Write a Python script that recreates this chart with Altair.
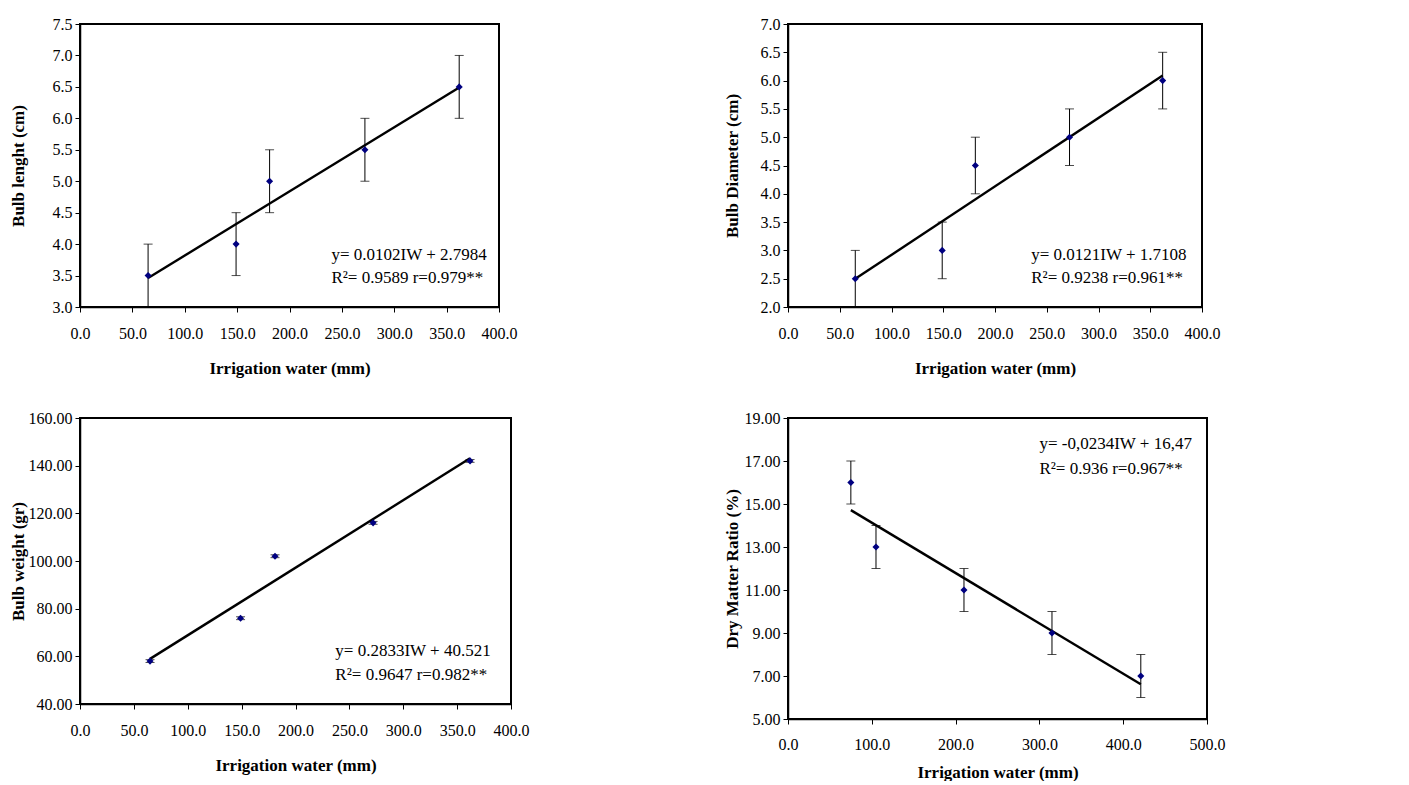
import altair as alt
import pandas as pd

FONT = "Liberation Serif"

# ---- data ----
iw_top = [65, 149, 181, 272, 362]
bulb_length = [3.5, 4.0, 5.0, 5.5, 6.5]
bulb_length_err = [0.5, 0.5, 0.5, 0.5, 0.5]
bulb_diam = [2.5, 3.0, 4.5, 5.0, 6.0]
bulb_diam_err = [0.5, 0.5, 0.5, 0.5, 0.5]

iw_w = [65, 149, 181, 272, 362]
bulb_weight = [58, 76, 102, 116, 142]
bulb_weight_err = [0.6, 0.6, 0.6, 0.6, 0.6]

iw_dm = [75, 105, 210, 315, 421]
dry_matter = [16, 13, 11, 9, 7]
dry_matter_err = [1, 1, 1, 1, 1]

# regression coefficients (slope, intercept) as printed
coef_length = (0.0102, 2.7984)
coef_diam = (0.0121, 1.7108)
coef_weight = (0.2833, 40.521)
coef_dm = (-0.0234, 16.47)

eq_length = ["y= 0.0102IW + 2.7984", "R²= 0.9589 r=0.979**"]
eq_diam = ["y= 0.0121IW + 1.7108", "R²= 0.9238 r=0.961**"]
eq_weight = ["y= 0.2833IW + 40.521", "R²= 0.9647 r=0.982**"]
eq_dm = ["y= -0,0234IW + 16,47", "R²= 0.936 r=0.967**"]

xticks_400 = [0, 50, 100, 150, 200, 250, 300, 350, 400]
xticks_500 = [0, 100, 200, 300, 400, 500]
yticks_length = [3.0, 3.5, 4.0, 4.5, 5.0, 5.5, 6.0, 6.5, 7.0, 7.5]
yticks_diam = [2.0, 2.5, 3.0, 3.5, 4.0, 4.5, 5.0, 5.5, 6.0, 6.5, 7.0]
yticks_weight = [40, 60, 80, 100, 120, 140, 160]
yticks_dm = [5, 7, 9, 11, 13, 15, 17, 19]


def panel(x, y, err, coef, xticks, yticks, yfmt, ytitle, eq, ann_x, ann_y,
          w, h, ytitle_pad, xlabel_pad=13, xtitle_pad=19):
    df = pd.DataFrame({
        "x": x, "y": y,
        "lo": [a - e for a, e in zip(y, err)],
        "hi": [a + e for a, e in zip(y, err)],
    })
    xs = alt.Scale(domain=[xticks[0], xticks[-1]], nice=False, zero=False)
    ys = alt.Scale(domain=[yticks[0], yticks[-1]], nice=False, zero=False)
    xaxis = alt.Axis(values=xticks, format=".1f", labelFlush=False,
                     labelOverlap=False, tickSize=5, labelPadding=xlabel_pad,
                     titlePadding=xtitle_pad)
    yaxis = alt.Axis(values=yticks, format=yfmt, labelOverlap=False,
                     tickSize=5, labelPadding=3, titlePadding=ytitle_pad)
    xt = "Irrigation water (mm)"

    def X(f):
        return alt.X(f"{f}:Q", scale=xs, axis=xaxis, title=xt)

    def Y(f):
        return alt.Y(f"{f}:Q", scale=ys, axis=yaxis, title=ytitle)

    base = alt.Chart(df)
    rule = base.mark_rule(color="black", strokeWidth=1).encode(
        x=X("x"), y=Y("lo"), y2="hi:Q")
    cap_lo = base.mark_tick(color="black", thickness=1, size=9,
                            orient="horizontal").encode(x=X("x"), y=Y("lo"))
    cap_hi = base.mark_tick(color="black", thickness=1, size=9,
                            orient="horizontal").encode(x=X("x"), y=Y("hi"))
    xmin, xmax = min(x), max(x)
    line_df = pd.DataFrame({"x": [xmin, xmax],
                            "y": [coef[0] * xmin + coef[1],
                                  coef[0] * xmax + coef[1]]})
    line = alt.Chart(line_df).mark_line(color="black", strokeWidth=2.4).encode(
        x=X("x"), y=Y("y"))
    pts = base.mark_point(shape="diamond", filled=True, color="#000080",
                          size=50, opacity=1).encode(x=X("x"), y=Y("y"))
    ann_df = pd.DataFrame({"x": [ann_x, ann_x], "y": ann_y, "t": eq})
    ann = alt.Chart(ann_df).mark_text(align="left", baseline="middle",
                                      font=FONT, fontSize=17,
                                      color="black").encode(
        x=X("x"), y=Y("y"), text="t:N")
    return alt.layer(rule, cap_lo, cap_hi, line, pts, ann).properties(
        width=w, height=h)


p1 = panel(iw_top, bulb_length, bulb_length_err, coef_length, xticks_400,
           yticks_length, ".1f", "Bulb lenght (cm)", eq_length,
           240, [3.83, 3.46], 419, 283, 25)
p2 = panel(iw_top, bulb_diam, bulb_diam_err, coef_diam, xticks_400,
           yticks_diam, ".1f", "Bulb Diameter (cm)", eq_diam,
           235, [2.92, 2.51], 414, 283, 19)
p3 = panel(iw_w, bulb_weight, bulb_weight_err, coef_weight, xticks_400,
           yticks_weight, ".2f", "Bulb weight (gr)", eq_weight,
           237, [62.1, 52.3], 431, 286, 1)
p4 = panel(iw_dm, dry_matter, dry_matter_err, coef_dm, xticks_500,
           yticks_dm, ".2f", "Dry Matter Ratio (%)", eq_dm,
           300, [17.8, 16.64], 419, 301, 3, xlabel_pad=12, xtitle_pad=12)

chart = alt.concat(
    p1, p2, p3, p4, columns=2,
    align={"row": "all", "column": "none"},
    spacing={"row": 22, "column": 192},
).properties(
    padding={"left": 0, "top": 7, "right": 0, "bottom": 0},
    background="white",
).configure_axis(
    labelFont=FONT, labelFontSize=16, labelColor="black",
    titleFont=FONT, titleFontSize=17, titleFontWeight="bold",
    titleColor="black", domainColor="black", domainWidth=1.5,
    tickColor="black", grid=False,
).configure_view(stroke="black", strokeWidth=2)

chart.save("out.html", embed_options={"renderer": "svg", "actions": False})
